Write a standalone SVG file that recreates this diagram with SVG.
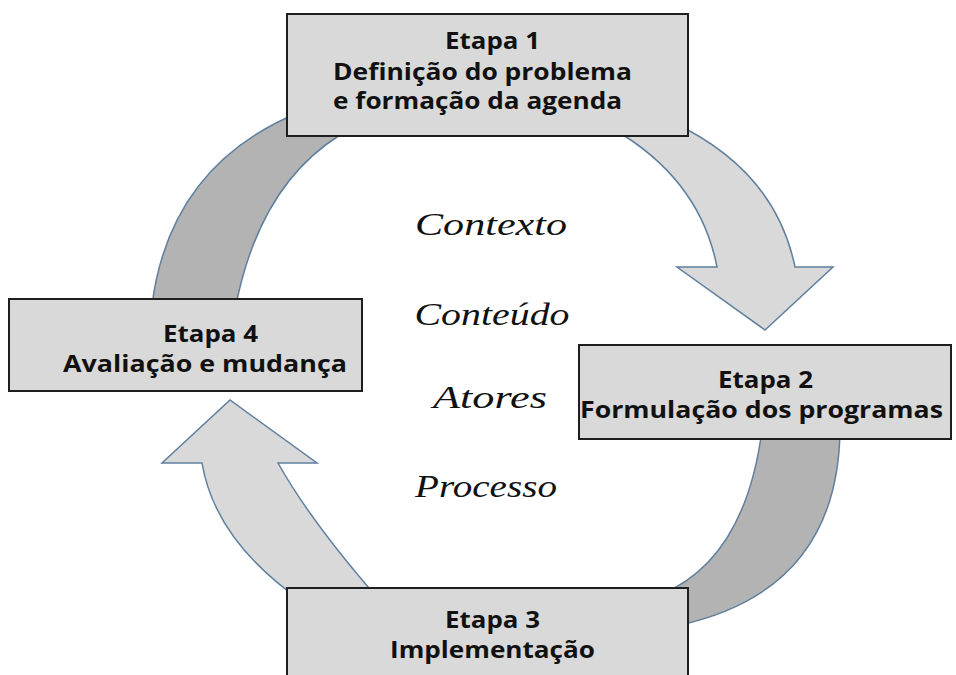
<svg xmlns="http://www.w3.org/2000/svg" width="956" height="675" viewBox="0 0 956 675">
<style>
.box{fill:#d9d9d9;stroke:#1e1e1e;stroke-width:2}
.lt{fill:#d9d9d9;stroke:#5f7f9f;stroke-width:1.5;stroke-linejoin:miter}
.dk{fill:#b3b3b3;stroke:#5f7f9f;stroke-width:1.5}
.t{font-family:"Open Sans","Liberation Sans",sans-serif;font-weight:bold;font-size:23px;fill:#111;text-anchor:middle}
.s{font-family:"Liberation Serif","DejaVu Serif",serif;font-style:italic;font-size:32px;fill:#111;text-anchor:middle}
</style>
<rect width="956" height="675" fill="#fff"/>
<g id="connectors">
<path class="dk" d="M152,305 Q170,165 300,112 L340,135 Q260,185 236,305 Z"/>
<path class="lt" d="M615,130 Q700,180 717,267 L677,267 L765,330 L833,267 L795,267 Q775,170 672,122 Z"/>
<path class="dk" d="M762,430 Q745,560 660,595 L680,625 Q838,590 840,430 Z"/>
<path class="lt" d="M300,600 Q215,540 202,463 L162,463 L230,400 L317,463 L278,463 Q310,520 375,595 Z"/>
</g>
<g id="etapa1">
<rect class="box" x="287" y="14" width="401" height="122"/>
<text class="t" x="492.5" y="49" textLength="95" lengthAdjust="spacingAndGlyphs">Etapa 1</text>
<text class="t" x="482.5" y="80" textLength="299" lengthAdjust="spacingAndGlyphs">Definição do problema</text>
<text class="t" x="477.5" y="109" textLength="289" lengthAdjust="spacingAndGlyphs">e formação da agenda</text>
</g>
<g id="etapa4">
<rect class="box" x="9" y="299" width="353" height="92"/>
<text class="t" x="210.5" y="342" textLength="95" lengthAdjust="spacingAndGlyphs">Etapa 4</text>
<text class="t" x="205" y="372" textLength="284" lengthAdjust="spacingAndGlyphs">Avaliação e mudança</text>
</g>
<g id="etapa2">
<rect class="box" x="579" y="345" width="372" height="94"/>
<text class="t" x="765.5" y="388" textLength="95" lengthAdjust="spacingAndGlyphs">Etapa 2</text>
<text class="t" x="761.5" y="418" textLength="363" lengthAdjust="spacingAndGlyphs">Formulação dos programas</text>
</g>
<g id="etapa3">
<rect class="box" x="287" y="588" width="401" height="100"/>
<text class="t" x="492.5" y="628" textLength="95" lengthAdjust="spacingAndGlyphs">Etapa 3</text>
<text class="t" x="492.5" y="658" textLength="205" lengthAdjust="spacingAndGlyphs">Implementação</text>
</g>
<g id="labels">
<text class="s" x="491" y="235" textLength="152" lengthAdjust="spacingAndGlyphs">Contexto</text>
<text class="s" x="492" y="325" textLength="155" lengthAdjust="spacingAndGlyphs">Conteúdo</text>
<text class="s" x="490" y="408" textLength="114" lengthAdjust="spacingAndGlyphs">Atores</text>
<text class="s" x="486" y="497" textLength="142" lengthAdjust="spacingAndGlyphs">Processo</text>
</g>
</svg>
